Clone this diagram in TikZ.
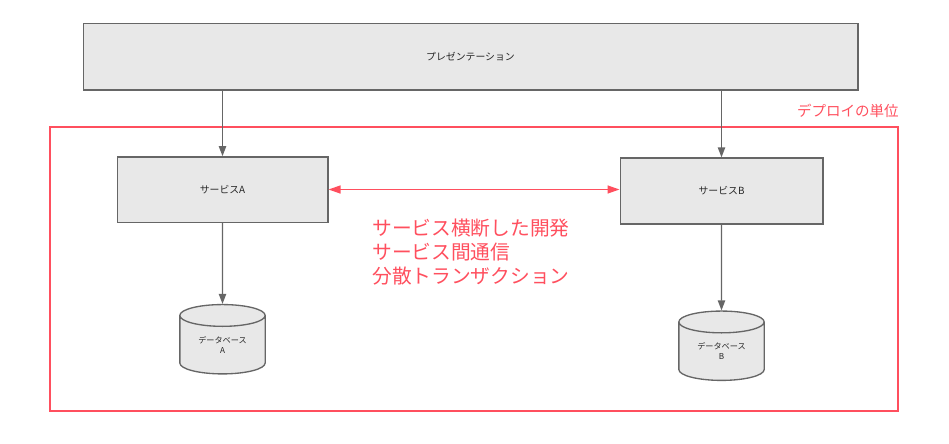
\documentclass[tikz,border=0pt]{standalone}
\usepackage{fontspec}
\setmainfont{Noto Sans CJK JP}
\usetikzlibrary{positioning,shapes.geometric,arrows.meta}
\definecolor{boxfill}{HTML}{E8E8E8}
\definecolor{boxline}{HTML}{666666}
\definecolor{unitred}{HTML}{FF4F5E}
\begin{document}
\begin{tikzpicture}[x=0.75pt,y=-0.75pt,
    svc/.style={draw=boxline,fill=boxfill,line width=1pt,inner sep=0pt,
      font=\fontsize{7.4}{9}\selectfont,text=black!85},
    db/.style={cylinder,shape border rotate=90,aspect=0.45,draw=boxline,fill=boxfill,
      line width=1pt,inner sep=0pt,minimum width=64pt,minimum height=52pt,align=center,
      font=\fontsize{6.1}{7.5}\selectfont,text=black!85},
    link/.style={draw=boxline,line width=1pt,-{Triangle[length=7.5pt,width=5.5pt]}},
    call/.style={draw=unitred,line width=1pt,
      {Triangle[length=9pt,width=6pt]}-{Triangle[length=9pt,width=6pt]}}]
  \useasboundingbox (0,0) rectangle (949,443);
  \node[draw=unitred,line width=0.8pt,minimum width=636pt,minimum height=213pt] (unit) at (474,269) {};
  \node[anchor=east,inner sep=0pt,text=unitred,font=\fontsize{10.9}{13}\selectfont] (unitlabel) at (899,111) {デプロイの単位};
  \node[svc,minimum width=581pt,minimum height=50pt] (pres) at (470.5,56.5) {プレゼンテーション};
  \node[svc,minimum width=158pt,minimum height=49pt] (svcA) at (222.5,189.5) {サービスA};
  \node[svc,minimum width=152pt,minimum height=49.5pt] (svcB) at (721.5,191) {サービスB};
  \node[db] (dbA) at (222.5,345) {データベース\\A};
  \node[db] (dbB) at (721.5,351.5) {データベース\\B};
  \draw[link] (svcA |- pres.south) -- (svcA);
  \draw[link] (svcB |- pres.south) -- (svcB);
  \draw[link] (svcA) -- (dbA);
  \draw[link] (svcB) -- (dbB);
  \draw[call] (svcA.east) -- (svcA.east -| svcB.west);
  \node[anchor=west,align=left,inner sep=0pt,text=unitred,font=\fontsize{14.8}{18}\selectfont] (notes) at (372,252)
    {サービス横断した開発\\サービス間通信\\分散トランザクション};
\end{tikzpicture}
\end{document}
